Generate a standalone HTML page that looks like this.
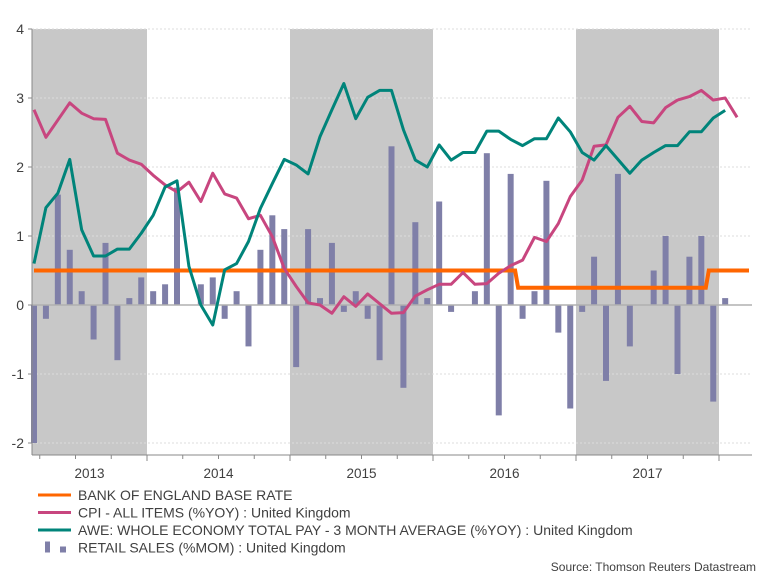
<!DOCTYPE html>
<html><head><meta charset="utf-8"><style>
body{margin:0;background:#fff;width:768px;height:576px;overflow:hidden}
svg{display:block;font-family:"Liberation Sans",Arial,sans-serif}
</style></head><body>
<svg id="chart" width="768" height="576" viewBox="0 0 768 576"></svg>
<script>
const yTicks=[4,3,2,1,0,-1,-2];
const years=["2013","2014","2015","2016","2017"];
const shadedYears=[2013,2015,2017];
const retail=[-2.0,-0.2,1.6,0.8,0.2,-0.5,0.9,-0.8,0.1,0.4,0.2,0.3,1.7,0,0.3,0.4,-0.2,0.2,-0.6,0.8,1.3,1.1,-0.9,1.1,0.1,0.9,-0.1,0.2,-0.2,-0.8,2.3,-1.2,1.2,0.1,1.5,-0.1,0,0.2,2.2,-1.6,1.9,-0.2,0.2,1.8,-0.4,-1.5,-0.1,0.7,-1.1,1.9,-0.6,0,0.5,1.0,-1.0,0.7,1.0,-1.4,0.1];
const cpi=[2.83,2.43,2.68,2.93,2.78,2.7,2.69,2.2,2.1,2.04,1.88,1.74,1.64,1.78,1.5,1.91,1.61,1.55,1.25,1.3,0.99,0.53,0.27,0.03,0.0,-0.12,0.12,-0.02,0.16,0.02,-0.12,-0.11,0.13,0.22,0.3,0.3,0.47,0.3,0.31,0.46,0.57,0.65,0.98,0.92,1.18,1.57,1.81,2.3,2.32,2.72,2.88,2.66,2.64,2.86,2.97,3.02,3.11,2.97,3.0,2.72];
const awe=[0.6,1.41,1.62,2.11,1.09,0.71,0.71,0.81,0.81,1.04,1.3,1.71,1.8,0.56,0.0,-0.29,0.51,0.6,0.92,1.4,1.76,2.11,2.03,1.9,2.44,2.83,3.21,2.7,3.01,3.11,3.11,2.54,2.1,2.0,2.32,2.1,2.21,2.21,2.52,2.52,2.4,2.31,2.41,2.41,2.71,2.51,2.21,2.1,2.31,2.11,1.91,2.1,2.21,2.31,2.31,2.51,2.51,2.71,2.82];
const baseRate=[0.5,0.5,0.5,0.5,0.5,0.5,0.5,0.5,0.5,0.5,0.5,0.5,0.5,0.5,0.5,0.5,0.5,0.5,0.5,0.5,0.5,0.5,0.5,0.5,0.5,0.5,0.5,0.5,0.5,0.5,0.5,0.5,0.5,0.5,0.5,0.5,0.5,0.5,0.5,0.5,0.5,0.25,0.25,0.25,0.25,0.25,0.25,0.25,0.25,0.25,0.25,0.25,0.25,0.25,0.25,0.25,0.25,0.5,0.5,0.5,0.5];
const legendLabels=["BANK OF ENGLAND BASE RATE","CPI - ALL ITEMS (%YOY) : United Kingdom","AWE: WHOLE ECONOMY TOTAL PAY - 3 MONTH AVERAGE (%YOY) : United Kingdom","RETAIL SALES (%MOM) : United Kingdom"];

const NS="http://www.w3.org/2000/svg";
const svg=document.getElementById('chart');
const L=32,R=752,T=29,B=455;
const M=143/12;
const y=v=>305-v*69;
const x=i=>34+i*M;
const yearStart=yr=>4+(yr-2013)*143;
function el(t,a,p){const e=document.createElementNS(NS,t);for(const k in a)e.setAttribute(k,a[k]);(p||svg).appendChild(e);return e;}

shadedYears.forEach(yr=>{
 const r=el('rect',{x:Math.max(L,yearStart(yr)),y:T,width:yearStart(yr)+143-Math.max(L,yearStart(yr)),height:B-T,fill:'#c8c8c8'});
 
 
});
yTicks.forEach(v=>{
 const g=el('line',{x1:L,x2:R,y1:y(v),y2:y(v),stroke:'#dddddd','stroke-dasharray':'2,2'});
 
 
 el('line',{x1:L-4,x2:L,y1:y(v),y2:y(v),stroke:'#888'});
 const t=el('text',{x:24,y:y(v)+5,'text-anchor':'end','font-size':14,fill:'#404040'});
 t.textContent=v;
 
 
});
retail.forEach((v,i)=>{
 if(v===0)return;
 const b=el('rect',{x:x(i)-3,y:Math.min(y(v),y(0)),width:6,height:Math.abs(y(v)-y(0)),fill:'#7f7fa8'});
 
 
});
el('line',{x1:L,x2:R,y1:y(0),y2:y(0),stroke:'#b0b0b0','stroke-width':1.5});
el('line',{x1:L,x2:L,y1:T,y2:B,stroke:'#888'});
el('line',{x1:L,x2:R,y1:B,y2:B,stroke:'#888'});
for(let q=0;q<21;q++){const xx=yearStart(2013)+q*143/4;if(xx<L||xx>R)continue;
 const big=q%4===0;el('line',{x1:xx,x2:xx,y1:B,y2:B+(big?6:4),stroke:'#888'});}
years.forEach((yr,k)=>{
 const s=Math.max(L,yearStart(+yr)), e=Math.min(R,yearStart(+yr)+143);
 const t=el('text',{x:(s+e)/2,y:478,'text-anchor':'middle','font-size':13.5,fill:'#404040'});
 t.textContent=yr;
 
 
});
let d='';baseRate.forEach((v,i)=>{
 if(i===0)d+='M'+x(0)+','+y(v);
 else if(v!==baseRate[i-1]){const mx=x(i)-M/2;d+='L'+(mx-1.5)+','+y(baseRate[i-1])+'L'+(mx+1.5)+','+y(v)+'L'+x(i)+','+y(v);}
 else d+='L'+x(i)+','+y(v);
});
const br=el('path',{d:d,fill:'none',stroke:'#ff6600','stroke-width':4});


function line(arr,c,name){const p=el('path',{d:arr.map((v,i)=>(i?'L':'M')+x(i)+','+y(v)).join(''),fill:'none',stroke:c,'stroke-width':3,'stroke-linejoin':'round'});
 
 }
line(cpi,'#c8467f','cpi-line');
line(awe,'#00847a','awe-line');
const lc=['#ff6600','#c8467f','#00847a'];
legendLabels.forEach((s,k)=>{
 const ly=495+k*17.5;
 if(k<3)el('line',{x1:38,x2:71,y1:ly,y2:ly,stroke:lc[k],'stroke-width':3});
 else{el('rect',{x:45,y:ly-6,width:5,height:11,fill:'#7f7fa8'});el('rect',{x:60,y:ly-1,width:6,height:6,fill:'#7f7fa8'});}
 const t=el('text',{x:78,y:ly+5,'font-size':14,fill:'#404040'});
 t.textContent=s;
 
 
});
const src=el('text',{x:756,y:571,'text-anchor':'end','font-size':12,fill:'#404040'});
src.textContent='Source: Thomson Reuters Datastream';


</script>
</body></html>
